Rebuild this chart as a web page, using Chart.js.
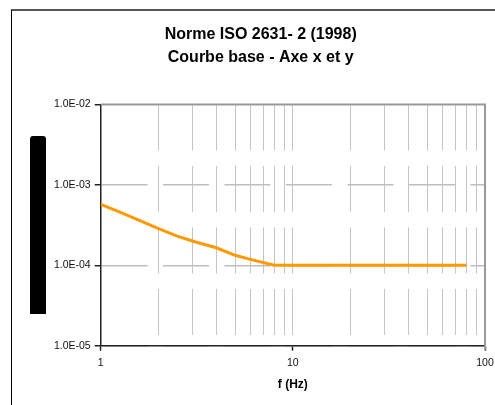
<!DOCTYPE html>
<html lang="fr">
<head>
    <meta charset="UTF-8">
    <title>Norme ISO 2631-2 - Courbe base</title>
    <script src="https://cdn.jsdelivr.net/npm/chart.js"></script>
    <style>
        html, body {
            margin: 0;
            padding: 0;
            background: #fff;
            overflow: hidden;
        }
        .frame {
            position: absolute;
            left: 11px;
            top: 9px;
            width: 497px;
            height: 394px;
            border-left: 1px solid #000;
            border-top: 2px solid #555;
        }
    </style>
</head>
<body>
    <div class="frame">
        <canvas id="chart"></canvas>
    </div>

    <script>
        // Frequencies (Hz), 1/3 octave
        const freqs = [1, 1.25, 1.6, 2, 2.5, 3.15, 4, 5, 6.3, 8, 10, 12.5, 16, 20, 25, 31.5, 40, 50, 63, 80];
        // Base curve values
        const baseCurve = [5.7e-4, 4.6e-4, 3.6e-4, 2.85e-4, 2.3e-4, 1.93e-4, 1.65e-4, 1.33e-4, 1.15e-4, 1.0e-4,
                           1.0e-4, 1.0e-4, 1.0e-4, 1.0e-4, 1.0e-4, 1.0e-4, 1.0e-4, 1.0e-4, 1.0e-4, 1.0e-4];

        const xGridTicks = [1, 2, 3, 4, 5, 6, 7, 8, 9, 10, 20, 30, 40, 50, 60, 70, 80, 90, 100];
        const xLabelTicks = [1, 10, 100];
        const yTicks = [1e-5, 1e-4, 1e-3, 1e-2];

        const titleLines = ['Norme ISO 2631- 2 (1998)', 'Courbe base - Axe x et y'];
        const xTitle = 'f (Hz)';

        const FONT = "'Liberation Sans', Arial, sans-serif";

        function sci(v) {
            const e = Math.round(Math.log10(v));
            const m = v / Math.pow(10, e);
            const sign = e < 0 ? '-' : '+';
            return m.toFixed(1) + 'E' + sign + String(Math.abs(e)).padStart(2, '0');
        }

        // plot border (top + right) and the blacked-out y title
        const decor = {
            id: 'decor',
            beforeDatasetsDraw(chart) {
                const { ctx, chartArea: a } = chart;
                ctx.save();
                ctx.strokeStyle = '#999';
                ctx.lineWidth = 2;
                ctx.beginPath();
                ctx.moveTo(a.left, a.top);
                ctx.lineTo(a.right, a.top);
                ctx.lineTo(a.right, a.bottom + 4);
                ctx.stroke();
                ctx.restore();
            },
            afterDraw(chart) {
                const { ctx, chartArea: a } = chart;
                const mid = (a.top + a.bottom) / 2;
                ctx.save();
                ctx.fillStyle = '#000';
                ctx.beginPath();
                ctx.roundRect(18, mid - 89, 16, 178, [3, 3, 0, 0]);
                ctx.fill();
                ctx.restore();
            }
        };

        new Chart(document.getElementById('chart'), {
            type: 'line',
            data: {
                datasets: [{
                    data: freqs.map((f, i) => ({ x: f, y: baseCurve[i] })),
                    borderColor: '#FF9900',
                    borderWidth: 3,
                    pointRadius: 0,
                    tension: 0,
                    fill: false
                }]
            },
            options: {
                responsive: true,
                maintainAspectRatio: false,
                animation: false,
                layout: { padding: { left: 24.4, right: 24, top: 0, bottom: 0 } },
                plugins: {
                    legend: { display: false },
                    tooltip: { enabled: false },
                    title: {
                        display: true,
                        text: titleLines,
                        color: '#000',
                        font: { family: FONT, size: 16, weight: 'bold', lineHeight: 1.45 },
                        padding: { top: 12, bottom: 35 }
                    }
                },
                scales: {
                    x: {
                        type: 'logarithmic',
                        min: 1,
                        max: 100,
                        afterBuildTicks: s => { s.ticks = xGridTicks.map(v => ({ value: v })); },
                        afterFit: s => { s.height = 59.3; },
                        ticks: {
                            autoSkip: false,
                            maxRotation: 0,
                            padding: 6,
                            color: '#111',
                            font: { family: FONT, size: 10.5 },
                            callback: v => xLabelTicks.includes(v) ? String(v) : ''
                        },
                        grid: {
                            color: c => (c.tick && (c.tick.value === 1 || c.tick.value === 100)) ? 'rgba(0,0,0,0)' : '#c4c4c4',
                            lineWidth: 1,
                            tickLength: 5,
                            tickWidth: 1.5,
                            tickColor: c => (c.tick && xLabelTicks.includes(c.tick.value)) ? '#222' : 'rgba(0,0,0,0)'
                        },
                        border: { color: '#222', width: 1.5, dash: [46, 15.5] },
                        title: {
                            display: true,
                            text: xTitle,
                            color: '#000',
                            font: { family: FONT, size: 12, weight: 'bold' },
                            padding: { top: 0, bottom: 13 }
                        }
                    },
                    y: {
                        type: 'logarithmic',
                        min: 1e-5,
                        max: 1e-2,
                        afterBuildTicks: s => { s.ticks = yTicks.map(v => ({ value: v })); },
                        afterFit: s => { s.width = 64.3; },
                        ticks: {
                            padding: 4,
                            color: '#111',
                            font: { family: FONT, size: 10.5 },
                            callback: v => sci(v)
                        },
                        grid: {
                            color: c => (c.tick && c.tick.value === 1e-2) ? 'rgba(0,0,0,0)' : '#bdbdbd',
                            lineWidth: 1.5,
                            tickLength: 6,
                            tickWidth: 1.5,
                            tickColor: '#222'
                        },
                        border: { color: '#222', width: 1.5, dash: [46, 15.5] }
                    }
                }
            },
            plugins: [decor]
        });
    </script>
</body>
</html>
